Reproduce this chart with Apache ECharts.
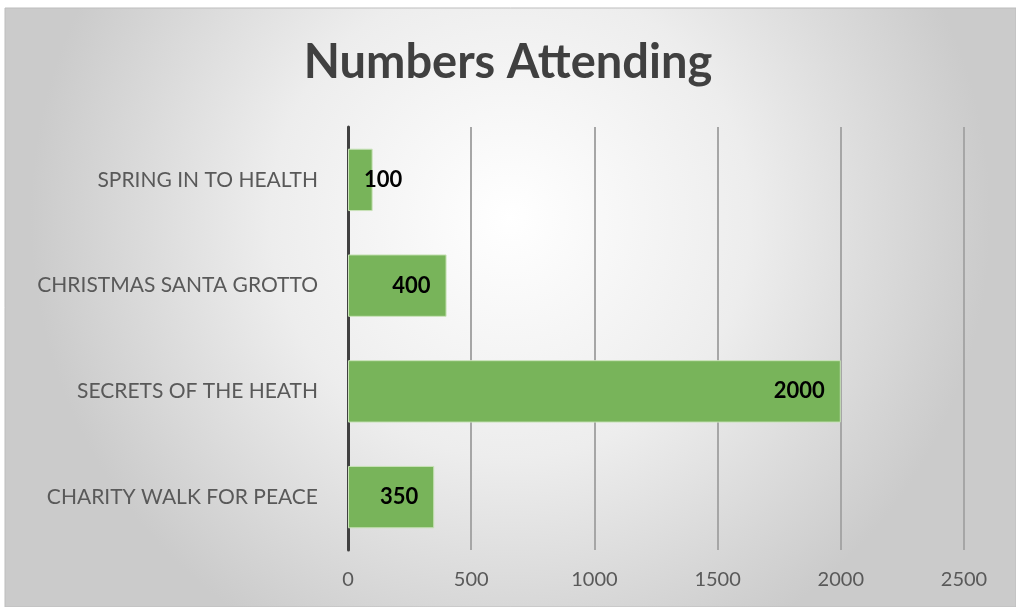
<!DOCTYPE html>
<html>
<head>
<meta charset="utf-8">
<script src="https://cdn.jsdelivr.net/npm/echarts@6/dist/echarts.min.js"></script>
<style>
  html, body { margin: 0; padding: 0; background: #fff; }
  #main { width: 1016px; height: 607px; }
</style>
</head>
<body>
<div id="main"></div>
<script>
// data, bottom to top as the category axis draws it
const events = [
  "CHARITY WALK FOR PEACE",
  "SECRETS OF THE HEATH",
  "CHRISTMAS SANTA GROTTO",
  "SPRING IN TO HEALTH",
];
const attending = [350, 2000, 400, 100];
const xTicks = [0, 500, 1000, 1500, 2000, 2500];

const chart = echarts.init(document.getElementById("main"));

const barData = attending.map(v => {
  // short bars: Excel pushes the label out to start just right of the axis
  if (v < 200) {
    return { value: v, label: { position: "insideLeft", distance: 16 } };
  }
  return v;
});

const option = {
  backgroundColor: "#ffffff",
  animation: false,
  graphic: [
    {
      type: "rect",
      z: -10,
      silent: true,
      shape: { x: 5, y: 8, width: 1011, height: 599 },
      style: {
        fill: {
          type: "radial",
          x: 0.5, y: 0.35, r: 0.8,
          colorStops: [
            { offset: 0, color: "#ffffff" },
            { offset: 0.5, color: "#ededed" },
            { offset: 1, color: "#cbcbcb" },
          ],
        },
        stroke: "#bdbdbd",
        lineWidth: 1,
      },
    },
  ],
  title: {
    text: "Numbers Attending",
    left: "center",
    top: 34,
    textStyle: {
      fontFamily: "Lato",
      fontWeight: "bold",
      fontSize: 47,
      color: "#404040",
    },
  },
  grid: { left: 348, right: 52, top: 127, bottom: 57, containLabel: false },
  xAxis: {
    type: "value",
    min: xTicks[0],
    max: xTicks[xTicks.length - 1],
    interval: xTicks[1] - xTicks[0],
    axisLine: { show: false },
    axisTick: { show: false },
    axisLabel: {
      margin: 20,
      fontFamily: "Lato",
      fontSize: 20,
      color: "#595959",
      formatter: v => String(v),
    },
    splitLine: {
      show: true,
      lineStyle: { color: "#a6a6a6", width: 2 },
    },
  },
  yAxis: {
    type: "category",
    data: events,
    axisLine: { show: true, lineStyle: { color: "#404040", width: 3 } },
    axisTick: { show: false },
    axisLabel: {
      margin: 30,
      fontFamily: "Lato",
      fontSize: 21,
      color: "#595959",
    },
  },
  series: [
    {
      type: "bar",
      data: barData,
      barWidth: "59%",
      itemStyle: { color: "#78b45a", borderColor: "#c9e2b8", borderWidth: 1 },
      label: {
        show: true,
        position: "insideRight",
        distance: 16,
        fontFamily: "Lato",
        fontWeight: "bold",
        fontSize: 22,
        color: "#000000",
      },
    },
  ],
};

chart.setOption(option);
</script>
</body>
</html>
